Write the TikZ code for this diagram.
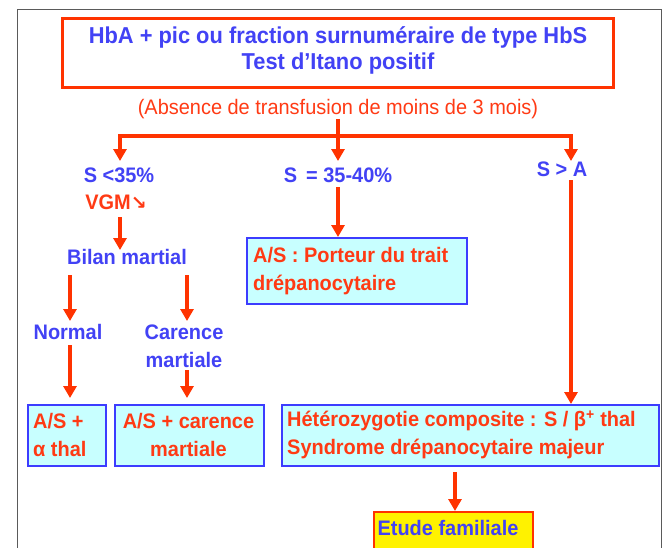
\documentclass[tikz,border=0pt]{standalone}
\usepackage{fontspec}
\setmainfont{Liberation Sans}[FakeStretch=0.95]
\newfontfamily\symfont{DejaVu Sans}
\usetikzlibrary{arrows.meta}
\definecolor{txtblue}{RGB}{66,66,245}
\definecolor{txtred}{RGB}{255,58,20}
\definecolor{linered}{RGB}{255,51,0}
\definecolor{boxfill}{RGB}{200,255,255}
\definecolor{boxblue}{RGB}{60,60,255}
\definecolor{framegray}{RGB}{90,90,90}
\tikzset{
  lbl/.style={inner sep=0pt, text=txtblue, font=\bfseries\fontsize{21}{26}\selectfont},
  redlbl/.style={inner sep=0pt, text=txtred, font=\bfseries\fontsize{21}{26}\selectfont},
  boxtxt/.style={inner sep=0pt, text=txtred, font=\bfseries\fontsize{21}{28}\selectfont},
  resbox/.style={draw=boxblue, line width=1.6pt, fill=boxfill, inner sep=0pt, anchor=north west},
  arr/.style={draw=linered, line width=4pt, -{Triangle[width=13pt,length=12pt]}},
  redline/.style={draw=linered, line width=4pt},
}
\begin{document}
\begin{tikzpicture}[x=1pt,y=-1pt]
\clip (0,0) rectangle (666,547);
\useasboundingbox (0,0) rectangle (666,547);
\fill[white] (0,0) rectangle (666,547);
\draw[framegray, line width=1pt] (17,9) rectangle (661,600);
% title
\node[draw=linered, line width=3.5pt, minimum width=551pt, minimum height=69pt, anchor=north west, inner sep=0pt] (title) at (60.5,16.5) {};
\node[lbl, font=\bfseries\fontsize{23}{26}\selectfont, align=center] (titletxt) at (338,50) {HbA + pic ou fraction surnuméraire de type HbS\\Test d’Itano positif};
\node[inner sep=0pt, text=txtred, font=\fontsize{21}{26}\selectfont] (absence) at (338,109) {(Absence de transfusion de moins de 3 mois)};
% branching
\coordinate (bc) at (338,136);
\coordinate (bl) at (120,136);
\coordinate (br) at (571,136);
\draw[redline] (absence.south) -- (bc);
\draw[redline, line cap=rect] (bl) -- (br);
% left column
\node[lbl] (slow) at (119,175) {S <35\%};
\node[redlbl] (vgm) at (116,202) {VGM{\symfont\bfseries\fontsize{19}{24}\selectfont ↘}};
\node[lbl] (bilan) at (127,257) {Bilan martial};
\node[lbl] (normal) at (68,332) {Normal};
\node[lbl, align=center, font=\bfseries\fontsize{21}{28}\selectfont] (carence) at (184,346) {Carence\\martiale};
% middle
\node[lbl] (smid) at (338,175) {S \,= 35-40\%};
% right
\node[lbl] (sa) at (562,169) {S > A};
% boxes
\node[resbox, minimum width=78pt, minimum height=61pt] (b1) at (27,404) {};
\node[boxtxt, anchor=west, align=left] (b1t) at (33,435) {A/S +\\α thal};
\node[resbox, minimum width=149pt, minimum height=61pt] (b2) at (114,404) {};
\node[boxtxt, align=center] (b2t) at (188.5,435) {A/S + carence\\martiale};
\node[resbox, minimum width=377pt, minimum height=61pt] (b3) at (281,404) {};
\node[boxtxt, anchor=west, align=left] (b3t) at (287,435) {Hétérozygotie composite : S / β\textsuperscript{+} thal\\Syndrome drépanocytaire majeur};
\node[resbox, minimum width=220pt, minimum height=66pt] (bm) at (246,237) {};
\node[boxtxt, anchor=west, align=left] (bmt) at (253,271) {A/S : Porteur du trait\\drépanocytaire};
\node[draw=linered, line width=1.6pt, fill=yellow, anchor=north west, minimum width=159pt, minimum height=50pt, inner sep=0pt] (etude) at (373,511) {};
\node[lbl] (etudet) at (448,528) {Etude familiale};
% arrows
\draw[arr] (bl) -- (120,161);
\draw[arr] (bc) -- (338,161);
\draw[arr] (br) -- (571,161);
\draw[arr] (120,217) -- (120,250);
\draw[arr] (70,275) -- (70,321);
\draw[arr] (187,275) -- (187,321);
\draw[arr] (70,345) -- (70,398);
\draw[arr] (187,370) -- (187,398);
\draw[arr] (338,187) -- (bm.north -| 338,0);
\draw[arr] (571,180) -- (b3.north -| 571,0);
\draw[arr] (455,472) -- (etude.north -| 455,0);
\end{tikzpicture}
\end{document}
